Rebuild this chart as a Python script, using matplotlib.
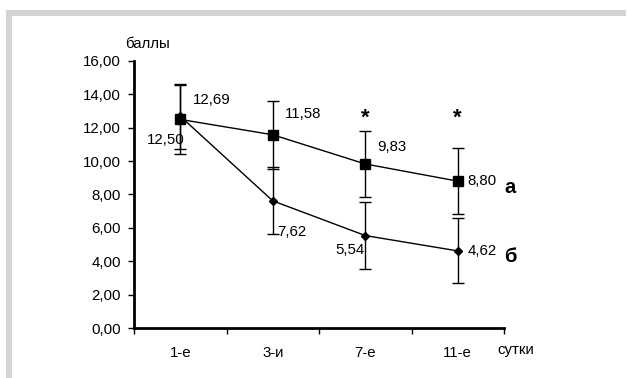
import matplotlib
matplotlib.use("Agg")
import matplotlib.pyplot as plt
from matplotlib.patches import Rectangle

plt.rcParams['font.family'] = ['Liberation Sans', 'DejaVu Sans']

categories = ["1-е", "3-и", "7-е", "11-е"]
series_a = [12.50, 11.58, 9.83, 8.80]
err_a = [2.05, 2.03, 1.97, 1.97]
series_b = [12.69, 7.62, 5.54, 4.62]
err_b = [1.95, 2.0, 2.0, 1.95]
labels_a = ["12,50", "11,58", "9,83", "8,80"]
labels_b = ["12,69", "7,62", "5,54", "4,62"]
yticks = [0, 2, 4, 6, 8, 10, 12, 14, 16]
ytick_labels = ["0,00", "2,00", "4,00", "6,00", "8,00", "10,00", "12,00", "14,00", "16,00"]
star_idx = [2, 3]

W, H = 627, 378
fig = plt.figure(figsize=(W / 100, H / 100), dpi=100)
fig.patch.set_facecolor("white")

# gray frame
gray = "#d4d4d4"
fig.add_artist(Rectangle((6 / W, 1 - 16 / H), (626 - 6) / W, 6 / H, transform=fig.transFigure,
                         facecolor=gray, edgecolor="none"))
fig.add_artist(Rectangle((6 / W, 0), 6 / W, 1 - 16 / H, transform=fig.transFigure,
                         facecolor=gray, edgecolor="none"))

ax = fig.add_axes([134 / W, 1 - 328 / H, (504 - 134) / W, (328 - 61) / H])
x = list(range(len(categories)))

ax.errorbar(x, series_a, yerr=err_a, color="black", lw=1.0, marker="s", ms=7,
            capsize=4, elinewidth=1.0, capthick=1.0, zorder=3)
ax.errorbar(x, series_b, yerr=err_b, color="black", lw=1.0, marker="D", ms=4.5,
            capsize=4, elinewidth=1.0, capthick=1.0, zorder=3)

px = 0.72
fs = 10.8
offs_a = [(4, -21, "right"), (12, 21, "left"), (12, 17, "left"), (10, 0, "left")]
offs_b = [(13, 16, "left"), (4, -31, "left"), (-1, -14, "right"), (10, 0, "left")]
for i in x:
    dx, dy, ha = offs_a[i]
    ax.annotate(labels_a[i], (x[i], series_a[i]), xytext=(dx * px, dy * px),
                textcoords="offset points", ha=ha, va="center", fontsize=fs)
    dx, dy, ha = offs_b[i]
    ax.annotate(labels_b[i], (x[i], series_b[i]), xytext=(dx * px, dy * px),
                textcoords="offset points", ha=ha, va="center", fontsize=fs)

for i in star_idx:
    ax.text(x[i], 12.55, "*", ha="center", va="center", fontsize=16, fontweight="bold")

ax.text(3.50, 8.4, "а", ha="left", va="center", fontsize=14.5, fontweight="bold")
ax.text(3.50, 4.3, "б", ha="left", va="center", fontsize=14.5, fontweight="bold")

ax.set_xlim(-0.5, 3.5)
ax.set_ylim(0, 16)
ax.set_yticks(yticks)
ax.set_yticklabels(ytick_labels, fontsize=fs)
ax.set_xticks([-0.5, 0.5, 1.5, 2.5, 3.5])
ax.set_xticklabels([])
ax.set_xticks(x, minor=True)
ax.set_xticklabels(categories, minor=True, fontsize=fs)
ax.tick_params(axis="x", which="major", length=4, width=1, direction="out")
ax.tick_params(axis="x", which="minor", length=0, pad=13)
ax.tick_params(axis="y", length=4, width=1, direction="out", pad=5.5)

for s in ["top", "right"]:
    ax.spines[s].set_visible(False)
ax.spines["left"].set_linewidth(2)
ax.spines["bottom"].set_linewidth(2)
ax.set_facecolor("none")

fig.text(125 / W, 1 - 44 / H, "баллы", ha="left", va="center", fontsize=fs)
fig.text(497 / W, 1 - 350 / H, "сутки", ha="left", va="center", fontsize=fs)

fig.savefig("out.png", dpi=100)
